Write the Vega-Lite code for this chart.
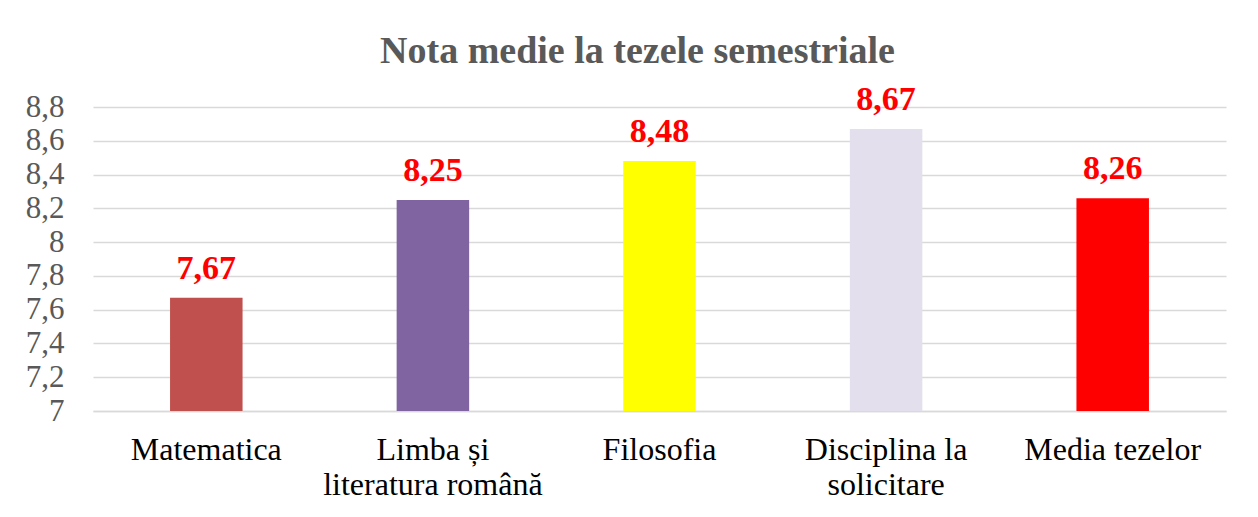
{
  "$schema": "https://vega.github.io/schema/vega-lite/v6.json",
  "width": 1133,
  "height": 304,
  "autosize": {"type": "none"},
  "padding": {"left": 93, "top": 107, "right": 32, "bottom": 106},
  "background": "white",
  "config": {
    "locale": {"number": {"decimal": ",", "thousands": ".", "grouping": [3], "currency": ["", " lei"]}},
    "view": {"stroke": null},
    "font": "Liberation Serif"
  },
  "title": {
    "text": "Nota medie la tezele semestriale",
    "font": "Liberation Serif",
    "fontSize": 38,
    "fontWeight": "bold",
    "color": "#595959",
    "anchor": "middle",
    "baseline": "bottom",
    "dx": -22,
    "dy": 35,
    "offset": 9
  },
  "data": {
    "values": [
      {"subject": "Matematica", "nota": 7.67, "color": "#C0504D"},
      {"subject": "Limba și literatura română", "nota": 8.25, "color": "#8064A2"},
      {"subject": "Filosofia", "nota": 8.48, "color": "#FFFF00"},
      {"subject": "Disciplina la solicitare", "nota": 8.67, "color": "#E4DFEC"},
      {"subject": "Media tezelor", "nota": 8.26, "color": "#FF0000"}
    ]
  },
  "encoding": {
    "x": {
      "field": "subject",
      "type": "nominal",
      "sort": null,
      "scale": {"paddingInner": 0.68, "paddingOuter": 0.34},
      "axis": {
        "title": null,
        "labelAngle": 0,
        "labelFont": "Liberation Serif",
        "labelFontSize": 32,
        "labelColor": "#000000",
        "labelPadding": 23,
        "labelLineHeight": 35,
        "labelLimit": 400,
        "labelOverlap": false,
        "ticks": false,
        "domain": true,
        "domainColor": "#D9D9D9",
        "domainWidth": 1.5,
        "labelExpr": "datum.label == 'Limba și literatura română' ? ['Limba și', 'literatura română'] : datum.label == 'Disciplina la solicitare' ? ['Disciplina la', 'solicitare'] : datum.label"
      }
    },
    "y": {
      "field": "nota",
      "type": "quantitative",
      "scale": {"domain": [7, 8.8], "zero": false, "nice": false},
      "axis": {
        "title": null,
        "values": [7, 7.2, 7.4, 7.6, 7.8, 8, 8.2, 8.4, 8.6, 8.8],
        "format": ".1~f",
        "labelFont": "Liberation Serif",
        "labelFontSize": 31,
        "labelColor": "#595959",
        "labelPadding": 29,
        "labelOverlap": false,
        "labelFlush": false,
        "ticks": false,
        "domain": false,
        "grid": true,
        "gridColor": "#D9D9D9",
        "gridWidth": 1.5
      }
    }
  },
  "layer": [
    {
      "mark": {"type": "bar"},
      "encoding": {
        "y2": {"datum": 7},
        "color": {"field": "color", "type": "nominal", "scale": null, "legend": null}
      }
    },
    {
      "mark": {"type": "text", "baseline": "alphabetic", "dy": -19, "font": "Liberation Serif", "fontSize": 34, "fontWeight": "bold", "color": "#FF0000"},
      "encoding": {
        "text": {"field": "nota", "type": "quantitative", "format": ".2f"}
      }
    }
  ]
}
